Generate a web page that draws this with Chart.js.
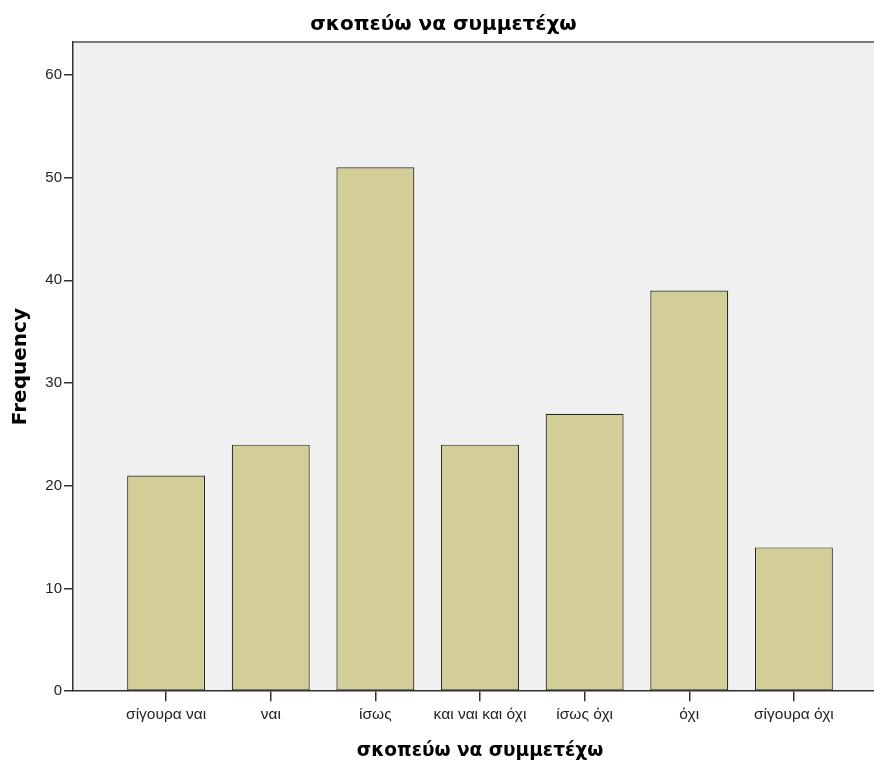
<!DOCTYPE html>
<html>
<head>
<meta charset="utf-8">
<script src="https://cdn.jsdelivr.net/npm/chart.js@4.4.1/dist/chart.umd.min.js"></script>
<style>
  html, body { margin: 0; padding: 0; background: #fff; overflow: hidden; }
  #wrap { width: 874px; height: 763px; overflow: hidden; }
</style>
</head>
<body>
<div id="wrap"><canvas id="freqChart" width="887" height="763"></canvas></div>
<script>
// Chart data
const chartTitle = "σκοπεύω να συμμετέχω";
const xAxisTitle = "σκοπεύω να συμμετέχω";
const yAxisTitle = "Frequency";
const categories = ["σίγουρα ναι", "ναι", "ίσως", "και ναι και όχι", "ίσως όχι", "όχι", "σίγουρα όχι"];
const frequencies = [21, 24, 51, 24, 27, 39, 14];
const yTicks = [0, 10, 20, 30, 40, 50, 60];

// Grey plot panel with the thin top frame line
const plotPanel = {
    id: "plotPanel",
    beforeDraw(chart) {
        const { ctx, chartArea: a } = chart;
        ctx.save();
        ctx.fillStyle = "#f0f0f0";
        ctx.fillRect(a.left, a.top, a.right - a.left, a.bottom - a.top);
        ctx.strokeStyle = "#7a7a7a";
        ctx.lineWidth = 2;
        ctx.beginPath();
        ctx.moveTo(a.left, a.top);
        ctx.lineTo(a.right, a.top);
        ctx.stroke();
        ctx.restore();
    }
};

function renderChart() {
    const ctx = document.getElementById("freqChart").getContext("2d");
    new Chart(ctx, {
        type: "bar",
        data: {
            datasets: [{
                label: yAxisTitle,
                data: frequencies.map((v, i) => ({ x: i, y: v })),
                backgroundColor: "#d3ce98",
                borderColor: "#2a2a2a",
                borderWidth: 1.2,
                borderSkipped: false,
                categoryPercentage: 1,
                barPercentage: 0.745
            }]
        },
        options: {
            responsive: false,
            animation: false,
            devicePixelRatio: 1,
            layout: { padding: 0 },
            plugins: {
                legend: { display: false },
                tooltip: { enabled: false },
                title: {
                    display: true,
                    text: chartTitle,
                    color: "#000",
                    font: { family: "DejaVu Sans", size: 20, weight: "bold" },
                    padding: { top: 13, bottom: 5 }
                }
            },
            scales: {
                x: {
                    type: "linear",
                    offset: false,
                    min: -0.89,
                    max: 6.89,
                    afterBuildTicks: (s) => { s.ticks = categories.map((c, i) => ({ value: i })); },
                    ticks: {
                        autoSkip: false,
                        maxRotation: 0,
                        color: "#222",
                        padding: 4,
                        font: { family: "Liberation Sans", size: 15.5 },
                        callback: (v) => categories[v]
                    },
                    grid: { offset: false, drawOnChartArea: false, drawTicks: true, tickLength: 10, color: "#333", lineWidth: 1.5 },
                    border: { display: true, color: "#333", width: 1.5 },
                    title: {
                        display: true,
                        text: xAxisTitle,
                        color: "#000",
                        font: { family: "DejaVu Sans", size: 18.5, weight: "bold" },
                        padding: { top: 12, bottom: 1 }
                    }
                },
                y: {
                    min: 0,
                    max: 63.2,
                    afterBuildTicks: (s) => { s.ticks = yTicks.map(v => ({ value: v })); },
                    afterFit: (s) => { s.width = 73; },
                    ticks: {
                        color: "#222",
                        padding: 2,
                        font: { family: "Liberation Sans", size: 15 }
                    },
                    grid: { drawOnChartArea: false, drawTicks: true, tickLength: 9, color: "#333", lineWidth: 1.5 },
                    border: { display: true, color: "#333", width: 1.5 },
                    title: {
                        display: true,
                        text: yAxisTitle,
                        color: "#000",
                        font: { family: "DejaVu Sans", size: 20, weight: "bold" },
                        padding: { top: 9, bottom: 0 }
                    }
                }
            }
        },
        plugins: [plotPanel]
    });
}

document.addEventListener("DOMContentLoaded", renderChart);
</script>
</body>
</html>
